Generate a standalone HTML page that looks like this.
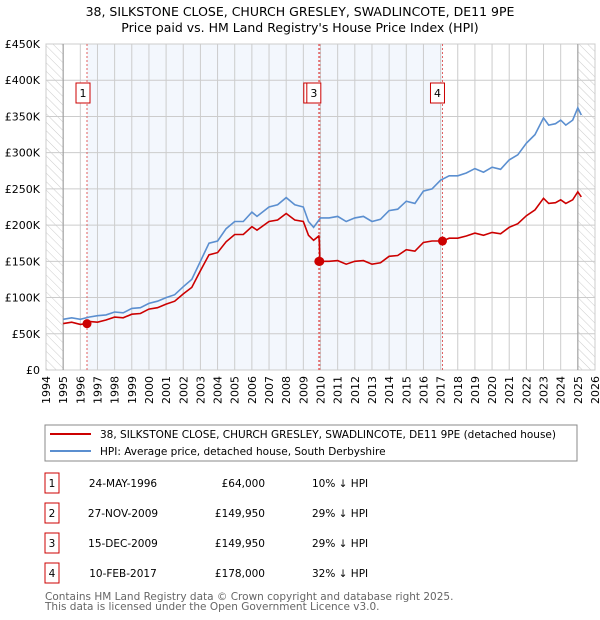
<!DOCTYPE html>
<html><head><meta charset="utf-8"><style>
body{margin:0;background:#fff;}
svg{display:block;font-family:"DejaVu Sans","Liberation Sans",sans-serif;}
</style></head><body>
<svg id="c" width="600" height="620" xmlns="http://www.w3.org/2000/svg">
<defs><pattern id="hatch" width="6" height="6" patternUnits="userSpaceOnUse" patternTransform="rotate(-45)"><line x1="0" y1="0" x2="0" y2="6" stroke="#ccc" stroke-width="1"/></pattern></defs>
<text x="300" y="16" text-anchor="middle" font-size="12.5">38, SILKSTONE CLOSE, CHURCH GRESLEY, SWADLINCOTE, DE11 9PE</text>
<text x="300" y="32" text-anchor="middle" font-size="12.5">Price paid vs. HM Land Registry's House Price Index (HPI)</text>
<g id="plot"></g>
<g>
<rect x="45" y="425" width="532" height="36" fill="#fff" stroke="#888"/>
<line x1="50" y1="434" x2="91" y2="434" stroke="#cc0000" stroke-width="2"/>
<text x="100" y="438" font-size="10.5">38, SILKSTONE CLOSE, CHURCH GRESLEY, SWADLINCOTE, DE11 9PE (detached house)</text>
<line x1="50" y1="451" x2="91" y2="451" stroke="#5b8fd0" stroke-width="2"/>
<text x="100" y="455" font-size="10.5">HPI: Average price, detached house, South Derbyshire</text>
</g>
<g id="table" font-size="10.5"></g>
<text x="45" y="600" font-size="10.5" fill="#666">Contains HM Land Registry data © Crown copyright and database right 2025.</text>
<text x="45" y="610" font-size="10.5" fill="#666">This data is licensed under the Open Government Licence v3.0.</text>
</svg>
<script>
const hpiYears=[1995,1995.5,1996,1996.5,1997,1997.5,1998,1998.5,1999,1999.5,2000,2000.5,2001,2001.5,2002,2002.5,2003,2003.5,2004,2004.5,2005,2005.5,2006,2006.3,2007,2007.5,2008,2008.5,2009,2009.3,2009.6,2010,2010.5,2011,2011.5,2012,2012.5,2013,2013.5,2014,2014.5,2015,2015.5,2016,2016.5,2017,2017.5,2018,2018.5,2019,2019.5,2020,2020.5,2021,2021.5,2022,2022.5,2023,2023.3,2023.7,2024,2024.3,2024.7,2025,2025.2];
const hpiValues=[70,72,70,73,75,76,80,79,85,86,92,95,100,104,115,125,150,175,178,195,205,205,218,212,225,228,238,228,225,205,197,210,210,212,205,210,212,205,208,220,222,233,230,247,250,262,268,268,272,278,273,280,277,290,297,313,325,348,338,340,345,338,345,362,352];
const redYears=[1995,1995.5,1996,1996.39,1996.5,1997,1997.5,1998,1998.5,1999,1999.5,2000,2000.5,2001,2001.5,2002,2002.5,2003,2003.5,2004,2004.5,2005,2005.5,2006,2006.3,2007,2007.5,2008,2008.5,2009,2009.3,2009.6,2009.9,2009.93,2009.96,2010.5,2011,2011.5,2012,2012.5,2013,2013.5,2014,2014.5,2015,2015.5,2016,2016.5,2017.11,2017.5,2018,2018.5,2019,2019.5,2020,2020.5,2021,2021.5,2022,2022.5,2023,2023.3,2023.7,2024,2024.3,2024.7,2025,2025.2];
const redValues=[64,66,63,64,67,66,69,73,72,77,78,84,86,91,95,105,114,137,159,162,177,187,187,198,193,205,207,216,207,205,186,179,185,178,150,150,151,146,150,151,146,148,157,158,166,164,176,178,178,182,182,185,189,186,190,188,197,202,213,221,237,230,231,235,230,235,246,239];
const saleDates=[1996.39,2009.9,2009.96,2017.11];
const salePrices=[64,149.95,149.95,178];
const saleLabels=["1","2","3","4"];
const yTicks=[0,50,100,150,200,250,300,350,400,450];
const yTickLabels=["£0","£50K","£100K","£150K","£200K","£250K","£300K","£350K","£400K","£450K"];
const xTicks=[1994,1995,1996,1997,1998,1999,2000,2001,2002,2003,2004,2005,2006,2007,2008,2009,2010,2011,2012,2013,2014,2015,2016,2017,2018,2019,2020,2021,2022,2023,2024,2025,2026];
const tDates=["24-MAY-1996","27-NOV-2009","15-DEC-2009","10-FEB-2017"];
const tPrices=["£64,000","£149,950","£149,950","£178,000"];
const tDiffs=["10% ↓ HPI","29% ↓ HPI","29% ↓ HPI","32% ↓ HPI"];

const NS="http://www.w3.org/2000/svg";
const L=46,R=595,T=44,B=370;
const xs=y=>L+(y-1994)/(2026-1994)*(R-L);
const ys=v=>B-v/450*(B-T);
function mk(p,tag,a,txt){const e=document.createElementNS(NS,tag);for(const k in a)e.setAttribute(k,a[k]);if(txt!==undefined)e.textContent=txt;p.appendChild(e);return e;}
const g=document.getElementById('plot');
let e;
e=mk(g,'rect',{x:xs(saleDates[0]),y:T,width:xs(saleDates[3])-xs(saleDates[0]),height:B-T,fill:'#eef3fc',opacity:'0.7'});


e=mk(g,'rect',{x:L,y:T,width:xs(1995)-L,height:B-T,fill:'url(#hatch)'});


e=mk(g,'rect',{x:xs(2025),y:T,width:R-xs(2025),height:B-T,fill:'url(#hatch)'});


xTicks.forEach((t,i)=>{
 mk(g,'line',{x1:xs(t),y1:T,x2:xs(t),y2:B,stroke:'#ccc','stroke-width':1});
 e=mk(g,'text',{x:xs(t)+4,y:B+6,'font-size':11,'text-anchor':'end',transform:`rotate(-90 ${xs(t)+4} ${B+6})`},String(t));
 
 
});
yTicks.forEach((t,i)=>{
 mk(g,'line',{x1:L,y1:ys(t),x2:R,y2:ys(t),stroke:'#ccc','stroke-width':1});
 e=mk(g,'text',{x:L-6,y:ys(t)+4,'font-size':11,'text-anchor':'end'},yTickLabels[i]);
 
 
});
mk(g,'rect',{x:L,y:T,width:R-L,height:B-T,fill:'none',stroke:'#ccc'});
mk(g,'line',{x1:xs(1995),y1:T,x2:xs(1995),y2:B,stroke:'#999'});
mk(g,'line',{x1:xs(2025),y1:T,x2:xs(2025),y2:B,stroke:'#999'});
saleDates.forEach((d,i)=>{
 e=mk(g,'line',{x1:xs(d),y1:T,x2:xs(d),y2:B,stroke:'#e06060','stroke-dasharray':'2,2','stroke-width':1});
 
 
});
const pts=(X,Y)=>X.map((x,i)=>xs(x).toFixed(1)+','+ys(Y[i]).toFixed(1)).join(' ');
e=mk(g,'polyline',{points:pts(hpiYears,hpiValues),fill:'none',stroke:'#5b8fd0','stroke-width':1.6});


e=mk(g,'polyline',{points:pts(redYears,redValues),fill:'none',stroke:'#cc0000','stroke-width':1.6});


const labelOffsets=[-11,-15,-13,-12];
saleDates.forEach((d,i)=>{
 e=mk(g,'circle',{cx:xs(d),cy:ys(salePrices[i]),r:4.5,fill:'#cc0000'});
 
 
 const lx=xs(d)+labelOffsets[i];
 e=mk(g,'rect',{x:lx,y:83,width:14,height:20,fill:'#fff',stroke:'#cc0000'});
 
 
 e=mk(g,'text',{x:lx+7,y:97,'font-size':11,'text-anchor':'middle'},saleLabels[i]);
 
 
});
const tb=document.getElementById('table');
saleLabels.forEach((l,i)=>{
 const cy=483+i*30;
 e=mk(tb,'rect',{x:45,y:cy-10,width:14,height:20,fill:'#fff',stroke:'#cc0000'});
 
 
 mk(tb,'text',{x:52,y:cy+4,'text-anchor':'middle'},l);
 e=mk(tb,'text',{x:123,y:cy+4,'text-anchor':'middle'},tDates[i]);
 
 
 e=mk(tb,'text',{x:265,y:cy+4,'text-anchor':'end'},tPrices[i]);
 
 
 e=mk(tb,'text',{x:312,y:cy+4},tDiffs[i]);
 
 
});
</script>
</body></html>
